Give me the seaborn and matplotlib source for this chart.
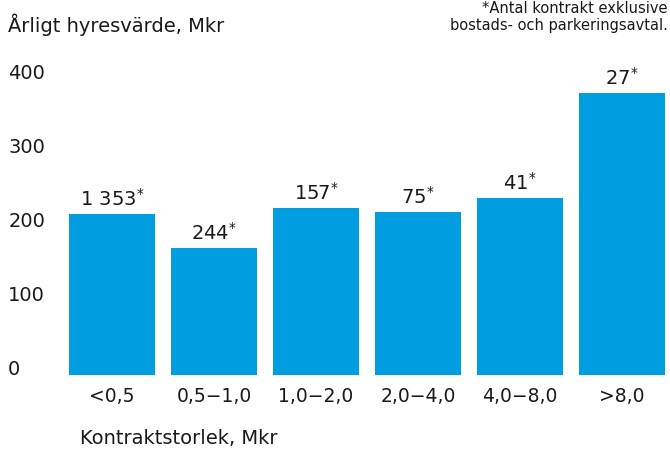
import matplotlib
matplotlib.use("Agg")

import matplotlib.pyplot as plt
import seaborn as sns

sns.set_style("white")
plt.rcParams['font.family'] = ['DejaVu Sans']
plt.rcParams['mathtext.fontset'] = 'dejavusans'

categories = ["<0,5", "0,5−1,0", "1,0−2,0", "2,0−4,0", "4,0−8,0", ">8,0"]
values = [218, 172, 226, 220, 239, 381]
counts = ["1 353", "244", "157", "75", "41", "27"]
y_ticks = [0, 100, 200, 300, 400]

blue = '#009ee0'
ink = '#1a1a1a'

fig = plt.figure(figsize=(6.7, 4.5), dpi=100)
ax = fig.add_axes([61 / 670, 75 / 450, 609 / 670, 315 / 450])

sns.barplot(
    x=categories,
    y=values,
    color=blue,
    saturation=1,
    width=0.85,
    linewidth=0,
    ax=ax
)

ax.set_xlim(-0.5, 5.47)
ax.set_ylim(0, 425.7)
sns.despine(ax=ax, left=True, bottom=True)

ax.set_yticks(y_ticks)
ax.set_yticklabels([str(t) for t in y_ticks], fontsize=14, color=ink,
                   ha='left', va='baseline')
ax.tick_params(axis='y', length=0, pad=38)
ax.tick_params(axis='x', length=0, pad=9, labelsize=13.5, labelcolor=ink)
ax.set_xlabel("")
ax.set_ylabel("")

ax.bar_label(
    ax.containers[0],
    labels=[c + r"$^{*}$" for c in counts],
    padding=3,
    fontsize=14,
    color=ink
)

fig.text(8 / 670, 1 - 25 / 450, "Årligt hyresvärde, Mkr",
         fontsize=14, color=ink, ha='left', va='center')
fig.text(668 / 670, 1 - 1 / 450,
         "*Antal kontrakt exklusive\nbostads- och parkeringsavtal.",
         fontsize=10.5, color=ink, ha='right', va='top',
         linespacing=1.15, multialignment='right')
fig.text(80 / 670, 1 - 438 / 450, "Kontraktstorlek, Mkr",
         fontsize=14, color=ink, ha='left', va='center')

fig.savefig("out.png", dpi=100)
plt.close(fig)
